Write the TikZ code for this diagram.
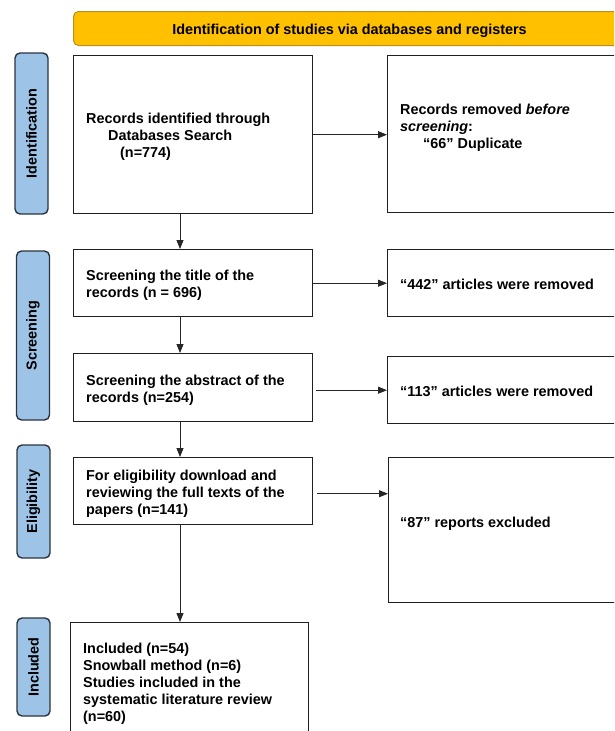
\documentclass[tikz,border=0pt]{standalone}
\usepackage{fontspec}
\setmainfont{Liberation Sans}
\usetikzlibrary{arrows.meta}
\definecolor{bannerfill}{HTML}{FFC000}
\definecolor{bannerdraw}{HTML}{B8901A}
\definecolor{stagefill}{HTML}{9DC3E6}
\definecolor{stagedraw}{HTML}{2A3440}
\newcommand{\tl}[1]{\begin{tabular}[t]{@{}l@{}}#1\end{tabular}}
\begin{document}
\begin{tikzpicture}[x=1pt,y=-1pt,
  every node/.style={font=\fontsize{14.4}{17}\selectfont\bfseries, inner sep=0pt},
  box/.style={draw=black!88, line width=1.4pt, anchor=north west},
  stage/.style={draw=stagedraw, fill=stagefill, rounded corners=5pt, line width=1.4pt, rotate=90, minimum height=33pt},
  txt/.style={anchor=base west},
  arr/.style={-{Triangle[length=9pt,width=7pt]}, line width=0.8pt, draw=black!85}]
\useasboundingbox (0,0) rectangle (614,731);
\clip (0,0) rectangle (614,731);
% banner
\node[draw=bannerdraw, fill=bannerfill, rounded corners=5pt, line width=1pt, minimum width=553pt, minimum height=34pt, anchor=north west] (banner) at (73,11) {};
\node[anchor=base] (bannertext) at (349.5,34) {Identification of studies via databases and registers};
% stages
\node[stage, minimum width=161pt] (s1) at (31.5,133.5) {Identification};
\node[stage, minimum width=169pt] (s2) at (33,335.5) {Screening};
\node[stage, minimum width=113pt] (s3) at (33.5,501.5) {Eligibility};
\node[stage, minimum width=98pt] (s4) at (33.5,667) {Included};
% left boxes
\node[box, minimum width=239pt, minimum height=158pt] (b1) at (73,55) {};
\node[box, minimum width=239pt, minimum height=67pt] (b2) at (73,249) {};
\node[box, minimum width=239pt, minimum height=68pt] (b3) at (73,353) {};
\node[box, minimum width=239pt, minimum height=67pt] (b4) at (73,457) {};
\node[box, minimum width=238pt, minimum height=125pt] (b5) at (70,622) {};
% right boxes
\node[box, minimum width=245pt, minimum height=157pt] (r1) at (387,55) {};
\node[box, minimum width=245pt, minimum height=67pt] (r2) at (387,249) {};
\node[box, minimum width=245pt, minimum height=67pt] (r3) at (387,356) {};
\node[box, minimum width=245pt, minimum height=145pt] (r4) at (388,457) {};
% texts
\node[txt] (t1) at (86,123) {\tl{Records identified through\\\hspace*{22pt}Databases Search\\\hspace*{34pt}(n=774)}};
\node[txt] (t2) at (86,280) {\tl{Screening the title of the\\records (n = 696)}};
\node[txt] (t3) at (86,385) {\tl{Screening the abstract of the\\records (n=254)}};
\node[txt] (t4) at (86,480.5) {\tl{For eligibility download and\\reviewing the full texts of the\\papers (n=141)}};
\node[txt] (t5) at (83,653) {\tl{Included (n=54)\\Snowball method (n=6)\\Studies included in the\\systematic literature review\\(n=60)}};
\node[txt] (u1) at (400,114) {\tl{Records removed \textit{before}\\\textit{screening}:\\\hspace*{23pt}“66” Duplicate}};
\node[txt] (u2) at (400,289) {“442” articles were removed};
\node[txt] (u3) at (400,396) {“113” articles were removed};
\node[txt] (u4) at (400,527) {“87” reports excluded};
% connectors
\coordinate (vx) at (180,0);
\draw[arr] (b1.south -| vx) -- (b2.north -| vx);
\draw[arr] (b2.south -| vx) -- (b3.north -| vx);
\draw[arr] (b3.south -| vx) -- (b4.north -| vx);
\draw[arr] (b4.south -| vx) -- (b5.north -| vx);
\draw[arr] (b1.east) -- (r1.west |- b1.east);
\draw[arr] (b2.east) -- (r2.west);
\coordinate (a3) at ([xshift=3pt]b3.east);
\draw[arr] (a3 |- r3.west) -- (r3.west);
\coordinate (a4) at ([xshift=4pt,yshift=-2.5pt]b4.east);
\draw[arr] (a4) -- (a4 -| r4.west);
\end{tikzpicture}
\end{document}
